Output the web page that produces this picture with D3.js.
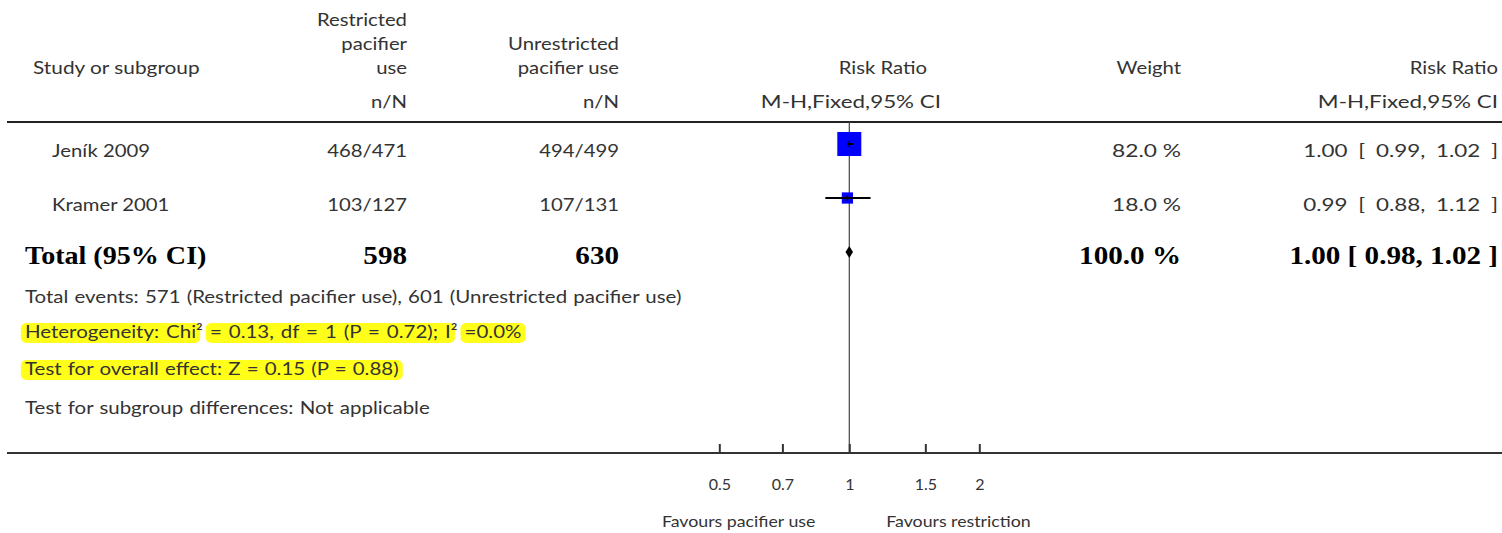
<!DOCTYPE html>
<html><head><meta charset="utf-8">
<script src="https://cdn.jsdelivr.net/npm/d3@7"></script>
<style>body{margin:0;background:#fff;overflow:hidden}</style>
</head><body><svg id="c" width="1502" height="533"></svg>
<script>
// ---- data ----
const studies = ["Jeník 2009", "Kramer 2001"];
const restrictedNN = ["468/471", "103/127"];
const unrestrictedNN = ["494/499", "107/131"];
const riskRatio = [1.00, 0.99];
const ciLow = [0.99, 0.88];
const ciHigh = [1.02, 1.12];
const weights = [82.0, 18.0];
const totalLabel = "Total (95% CI)";
const totalRestricted = 598;
const totalUnrestricted = 630;
const totalRR = [1.00];
const totalLow = [0.98];
const totalHigh = [1.02];
const totalWeight = [100.0];
const tickValues = [0.5, 0.7, 1, 1.5, 2];
const tickLabels = ["0.5", "0.7", "1", "1.5", "2"];
const favourLabels = ["Favours pacifier use", "Favours restriction"];
const footnotes = [
  "Total events: 571 (Restricted pacifier use), 601 (Unrestricted pacifier use)",
  "Heterogeneity: Chi² = 0.13, df = 1 (P = 0.72); I² =0.0%",
  "Test for overall effect: Z = 0.15 (P = 0.88)",
  "Test for subgroup differences: Not applicable"
];
const highlights = [[], [[0, 18], [20, 48], [50, 55]], [[0, 44]], []];

// ---- drawing ----
const svg = d3.select("#c");
const SANS = "Lato, 'Open Sans', sans-serif";
const SERIF = "'Liberation Serif', 'DejaVu Serif', serif";
const FS = 17.5;
const SX = 1.16;
const TXT = "#333";

const x = d3.scaleLog().domain([0.5, 2]).range([719.3, 979.3]);
const rowY = d3.scaleLinear().domain([0, 2]).range([144, 252]);
const boxSide = d3.scaleSqrt().domain([0, 100]).range([0, 26.5]);
const fmt2 = d3.format(".2f");
const fmt1 = d3.format(".1f");

function txt(xp, yp, s, anchor, opts = {}) {
  const g = svg.append("g")
    .attr("transform", `translate(${xp},${yp}) scale(${opts.sx || SX},1)`);
  const t = g.append("text").attr("x", 0).attr("y", 0)
    .attr("text-anchor", anchor || "start")
    .attr("font-family", opts.family || SANS)
    .attr("font-size", opts.size || FS)
    .attr("font-weight", opts.weight || "normal")
    .attr("fill", opts.fill || TXT)
    .attr("word-spacing", opts.ws || 0)
    .text(s);
  return { g, t };
}

// header
txt(33, 74, "Study or subgroup", "start", { sx: 1.19 });
txt(407, 26, "Restricted", "end");
txt(407, 50, "pacifier", "end");
txt(407, 74, "use", "end");
txt(407, 108, "n/N", "end");
txt(619, 50, "Unrestricted", "end");
txt(619, 74, "pacifier use", "end");
txt(619, 108, "n/N", "end");
txt(927, 74, "Risk Ratio", "end");
txt(941, 108, "M-H,Fixed,95% CI", "end", { sx: 1.28 });
txt(1181, 74, "Weight", "end");
txt(1498, 74, "Risk Ratio", "end");
txt(1498, 108, "M-H,Fixed,95% CI", "end", { sx: 1.28 });

// header rule
svg.append("line").attr("x1", 7).attr("x2", 1502).attr("y1", 122).attr("y2", 122)
  .attr("stroke", "#222").attr("stroke-width", 2.2);

// null line
svg.append("line").attr("x1", x(1)).attr("x2", x(1)).attr("y1", 122).attr("y2", 453)
  .attr("stroke", "#444").attr("stroke-width", 1.2);

// study rows
studies.forEach((s, i) => {
  const cy = rowY(i);
  const by = cy + 12.5;
  txt(52, by, s, "start");
  txt(407, by, restrictedNN[i], "end");
  txt(619, by, unrestrictedNN[i], "end");
  txt(1181, by, fmt1(weights[i]) + " %", "end", { sx: 1.3 });
  txt(1498, by, `${fmt2(riskRatio[i])} [ ${fmt2(ciLow[i])}, ${fmt2(ciHigh[i])} ]`, "end", { sx: 1.28, ws: 4 });
  const side = boxSide(weights[i]);
  svg.append("rect").attr("x", x(riskRatio[i]) - side / 2).attr("y", cy - side / 2)
    .attr("width", side).attr("height", side).attr("fill", "#0000ff");
  svg.append("line").attr("x1", x(ciLow[i])).attr("x2", x(ciHigh[i]))
    .attr("y1", cy).attr("y2", cy).attr("stroke", "#000").attr("stroke-width", 2);
  svg.append("line").attr("x1", x(riskRatio[i])).attr("x2", x(riskRatio[i]))
    .attr("y1", cy - 3).attr("y2", cy + 3).attr("stroke", "#000").attr("stroke-width", 1.5);
});

// total row
{
  const cy = rowY(2);
  const by = cy + 11.5;
  const o = { family: SERIF, size: 26, weight: "bold", fill: "#000", sx: 1.12 };
  txt(25, by, totalLabel, "start", Object.assign({}, o, { sx: 1.08 }));
  txt(407, by, String(totalRestricted), "end", o);
  txt(619, by, String(totalUnrestricted), "end", o);
  txt(1181, by, fmt1(totalWeight[0]) + " %", "end", o);
  txt(1498, by, `${fmt2(totalRR[0])} [ ${fmt2(totalLow[0])}, ${fmt2(totalHigh[0])} ]`, "end", o);
  const pts = [[x(totalLow[0]), cy], [x(totalRR[0]), cy - 6], [x(totalHigh[0]), cy], [x(totalRR[0]), cy + 6]];
  svg.append("path").attr("d", d3.line()(pts) + "Z").attr("fill", "#000");
}

// footnotes
const footY = [303, 338, 375, 414];
footnotes.forEach((f, i) => {
  const { g, t } = txt(25, footY[i], f, "start", { sx: 1.17, ws: i === 1 ? 1.5 : 0.8 });
  const node = t.node();
  const n = node.getNumberOfChars();
  highlights[i].forEach(([a, b]) => {
    const bb = Math.min(b, n);
    const x0 = node.getStartPositionOfChar(a).x;
    const x1 = node.getEndPositionOfChar(bb - 1).x;
    g.insert("rect", "text").attr("x", x0 - 3.5).attr("y", -15)
      .attr("width", x1 - x0 + 7).attr("height", 20).attr("rx", 5)
      .attr("fill", "#ffff1a");
  });
});

// axis
svg.append("line").attr("x1", 7).attr("x2", 1502).attr("y1", 453).attr("y2", 453)
  .attr("stroke", "#333").attr("stroke-width", 2);
const axis = d3.axisBottom(x).tickValues(tickValues)
  .tickFormat((d, i) => tickLabels[i]).tickSize(-9).tickPadding(26);
const ag = svg.append("g").attr("transform", "translate(0,453)").call(axis);
ag.select(".domain").remove();
ag.selectAll(".tick line").attr("stroke", "#333").attr("stroke-width", 2);
ag.selectAll(".tick text").attr("font-family", SANS).attr("font-size", 16).attr("fill", TXT);

txt(x(1) - 34, 527, favourLabels[0], "end", { size: 15.3 });
txt(x(1) + 37, 527, favourLabels[1], "start", { size: 15.3 });
</script>
</body></html>
